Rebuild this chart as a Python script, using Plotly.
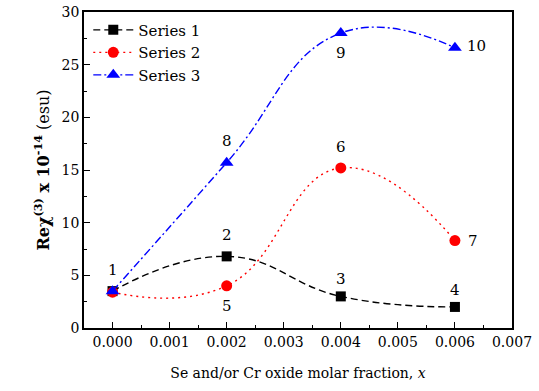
import plotly.graph_objects as go

x_vals = [0.000, 0.002, 0.004, 0.006]
series1 = [3.5, 6.8, 3.0, 2.0]
series2 = [3.4, 4.0, 15.2, 8.3]
series3 = [3.5, 15.7, 28.0, 26.6]
series_names = ["Series 1", "Series 2", "Series 3"]
point_labels = [["1", "2", "3", "4"], ["", "5", "6", "7"], ["", "8", "9", "10"]]
x_ticks = [0.000, 0.001, 0.002, 0.003, 0.004, 0.005, 0.006, 0.007]
y_ticks = [0, 5, 10, 15, 20, 25, 30]

FONT = "DejaVu Serif"
fig = go.Figure()
styles = [
    dict(color="black", dash="7px,4px", symbol="square", size=10),
    dict(color="red", dash="2px,4px", symbol="circle", size=11),
    dict(color="blue", dash="8px,3px,2px,3px", symbol="triangle-up", size=12),
]
for name, ys, st in zip(series_names, [series1, series2, series3], styles):
    fig.add_trace(go.Scatter(
        x=x_vals, y=ys, name=name, mode="lines+markers",
        line=dict(color=st["color"], dash=st["dash"], width=1.4, shape="spline", smoothing=1.3),
        marker=dict(color=st["color"], symbol=st["symbol"], size=st["size"]),
    ))

offsets = {
    "1": (0, -21), "2": (0, -21), "3": (0, -17), "4": (0, -17),
    "5": (0, 20), "6": (0, -21), "7": (18, 0),
    "8": (0, -22), "9": (0, 20), "10": (22, -2),
}
for ys, labs in zip([series1, series2, series3], point_labels):
    for xv, yv, lab in zip(x_vals, ys, labs):
        if not lab:
            continue
        dx, dy = offsets[lab]
        fig.add_annotation(x=xv, y=yv, text=lab, showarrow=False, xshift=dx, yshift=-dy,
                           font=dict(family=FONT, size=15, color="black"))

axis_common = dict(
    showline=True, linecolor="black", linewidth=1.5, mirror=True,
    ticks="inside", ticklen=6, tickwidth=1.2, tickcolor="black",
    showgrid=False, zeroline=False, automargin=False,
    tickfont=dict(family=FONT, size=14, color="black"),
    minor=dict(ticks="inside", ticklen=3, tickwidth=1.2, tickcolor="black"),
)
fig.update_xaxes(range=[-0.0005, 0.007], tickvals=x_ticks,
                 ticktext=[f"{v:.3f}" for v in x_ticks],
                 minor_dtick=0.0005,
                 title=dict(text="Se and/or Cr oxide molar fraction, <i>x</i>",
                            font=dict(family=FONT, size=14, color="black"), standoff=20),
                 **axis_common)
fig.update_yaxes(range=[0, 30], tickvals=y_ticks, minor_dtick=2.5,
                 title=dict(text="<b>Reχ<sup>(3)</sup> x 10<sup>-14</sup></b> (esu)",
                            font=dict(family=FONT, size=16, color="black"), standoff=8),
                 **axis_common)
fig.update_layout(
    width=539, height=391,
    margin=dict(l=84, r=27, t=12, b=63),
    plot_bgcolor="white", paper_bgcolor="white",
    font=dict(family=FONT, color="black"),
    legend=dict(x=0.01, y=0.995, xanchor="left", yanchor="top",
                bgcolor="rgba(0,0,0,0)", font=dict(family=FONT, size=15, color="black"),
                itemwidth=40, tracegroupgap=0),
)
fig.write_html("out.html")
